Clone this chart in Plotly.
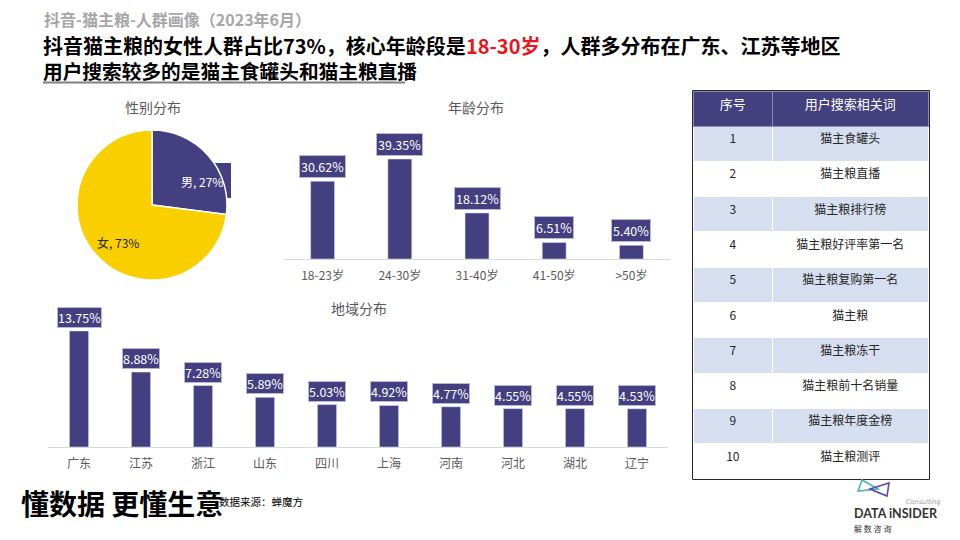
import plotly.graph_objects as go

# ---------------- data ----------------
gender_labels = ["男", "女"]
gender_values = [27, 73]

age_labels = ["18-23岁", "24-30岁", "31-40岁", "41-50岁", ">50岁"]
age_values = [30.62, 39.35, 18.12, 6.51, 5.40]

region_labels = ["广东", "江苏", "浙江", "山东", "四川", "上海", "河南", "河北", "湖北", "辽宁"]
region_values = [13.75, 8.88, 7.28, 5.89, 5.03, 4.92, 4.77, 4.55, 4.55, 4.53]

rank_no = ["1", "2", "3", "4", "5", "6", "7", "8", "9", "10"]
search_terms = ["猫主食罐头", "猫主粮直播", "猫主粮排行榜", "猫主粮好评率第一名", "猫主粮复购第一名",
                "猫主粮", "猫主粮冻干", "猫主粮前十名销量", "猫主粮年度金榜", "猫主粮测评"]

# ---------------- style ----------------
W, H = 960, 540
FONT = "Noto Sans CJK SC"
PURPLE = "#433F80"
YELLOW = "#F9CF00"
GRAY_T = "#595959"


def px(x):
    return x / W


def py(y):
    return 1 - y / H


fig = go.Figure()

# Pie
fig.add_trace(go.Pie(
    labels=gender_labels, values=gender_values, sort=False, direction="clockwise",
    rotation=0, marker=dict(colors=[PURPLE, YELLOW], line=dict(color="white", width=1.5)),
    textinfo="none", hoverinfo="label+percent", showlegend=False,
    domain=dict(x=[px(152 - 75), px(152 + 75)], y=[py(205 + 75), py(205 - 75)]),
))

# Age bars
fig.add_trace(go.Bar(
    x=age_labels, y=age_values, marker=dict(color=PURPLE), width=0.31,
    xaxis="x", yaxis="y", showlegend=False, hoverinfo="x+y",
))

# Region bars
fig.add_trace(go.Bar(
    x=region_labels, y=region_values, marker=dict(color=PURPLE), width=0.31,
    xaxis="x2", yaxis="y2", showlegend=False, hoverinfo="x+y",
))

# Table
row_fill = ["#D6DFF0" if i % 2 == 0 else "#FFFFFF" for i in range(len(rank_no))]
fig.add_trace(go.Table(
    domain=dict(x=[px(693), px(929)], y=[py(480), py(91)]),
    columnwidth=[80, 156],
    header=dict(values=["序号", "用户搜索相关词"], fill_color="#43407F",
                font=dict(color="white", size=13, family=FONT), align="center",
                height=35, line=dict(color="#8E8CB5", width=1)),
    cells=dict(values=[rank_no, search_terms], fill_color=[row_fill, row_fill],
               font=dict(color="#262626", size=12, family=FONT), align="center",
               height=35.3, line=dict(color="white", width=1)),
))

axis_common = dict(showgrid=False, zeroline=False, ticks="", showline=True,
                   linecolor="#D9D9D9", linewidth=1, ticklabelstandoff=6,
                   tickfont=dict(size=12, color=GRAY_T, family=FONT), fixedrange=True)

fig.update_layout(
    width=W, height=H, margin=dict(l=0, r=0, t=0, b=0),
    paper_bgcolor="white", plot_bgcolor="rgba(0,0,0,0)",
    font=dict(family=FONT),
    xaxis=dict(domain=[px(284), px(670)], anchor="y", range=[-0.5, 4.5], **axis_common),
    yaxis=dict(domain=[py(259), py(130)], range=[0, 129 / 2.54], visible=False, fixedrange=True),
    xaxis2=dict(domain=[px(48), px(668)], anchor="y2", range=[-0.5, 9.5], **axis_common),
    yaxis2=dict(domain=[py(447), py(318)], range=[0, 129 / 8.44], visible=False, fixedrange=True),
    bargap=0.69,
)

ann = []
# Value label boxes
for lab, v in zip(age_labels, age_values):
    ann.append(dict(x=lab, y=v, xref="x", yref="y", text=f"{v:.2f}%", showarrow=False,
                    xanchor="center", yanchor="bottom", yshift=3, bgcolor=PURPLE,
                    bordercolor="#B9B7D6", borderwidth=1, borderpad=1,
                    font=dict(color="white", size=12.5, family=FONT)))
for lab, v in zip(region_labels, region_values):
    ann.append(dict(x=lab, y=v, xref="x2", yref="y2", text=f"{v:.2f}%", showarrow=False,
                    xanchor="center", yanchor="bottom", yshift=3, bgcolor=PURPLE,
                    bordercolor="#B9B7D6", borderwidth=1, borderpad=0,
                    font=dict(color="white", size=12.5, family=FONT)))


def txt(text, x, y, size, color, xanchor="center", family=FONT, height=None):
    d = dict(x=px(x), y=py(y), xref="paper", yref="paper", text=text, showarrow=False,
             xanchor=xanchor, yanchor="middle",
             font=dict(color=color, size=size, family=family))
    if height is not None:
        d["height"] = height
        d["borderpad"] = 0
    return d


# Pie labels
ann.append(txt(f"{gender_labels[0]}, {gender_values[0]}%", 202, 181, 12, "white"))
ann.append(txt(f"{gender_labels[1]}, {gender_values[1]}%", 118, 243, 12, "#262626"))

# Chart titles
for t, x, y in [("性别分布", 153, 107), ("年龄分布", 476, 107), ("地域分布", 359, 308)]:
    ann.append(txt(t, x, y, 14, GRAY_T))

# Header texts
ann.append(txt("<b>抖音-猫主粮-人群画像（2023年6月）</b>", 42, 19, 16, "#A6A6A6", "left"))
ann.append(txt("<b>抖音猫主粮的女性人群占比73%，核心年龄段是<span style='color:#E8161B'>18-30岁</span>，人群多分布在广东、江苏等地区</b>",
               42, 45, 20, "black", "left", height=23))
ann.append(txt("<b>用户搜索较多的是猫主食罐头和猫主粮直播</b>", 42, 70, 19.7, "black", "left", height=23))

# Footer
ann.append(txt("<b>懂数据 更懂生意</b>", 19, 503, 28, "black", "left"))
ann.append(txt("数据来源：蝉魔方", 217, 501, 10.5, "black", "left"))
ann.append(txt("<b>DATA iNSIDER</b>", 852, 513, 12.5, "#333333", "left", "Lato"))
ann.append(txt("<i>Consulting</i>", 943, 502, 6.5, "#999999", "right", "DejaVu Sans"))
ann.append(txt("解 数 咨 询", 852, 528, 8, "#333333", "left"))

fig.update_layout(annotations=ann)


def P(x, y):
    return f"{px(x)} {py(y)}"


shapes = [
    # header underline
    dict(type="line", xref="paper", yref="paper", x0=px(43), x1=px(405), y0=py(82.5), y1=py(82.5),
         line=dict(color="#7F7F7F", width=2)),
    # pie label box bump
    dict(type="rect", xref="paper", yref="paper", x0=px(205), x1=px(231), y0=py(198), y1=py(163),
         fillcolor=PURPLE, line=dict(width=0), layer="below"),
    # table outer border
    dict(type="rect", xref="paper", yref="paper", x0=px(692.5), x1=px(929.5), y0=py(479.5), y1=py(90.5),
         line=dict(color="#262626", width=1)),
    # logo icon
    dict(type="path", xref="paper", yref="paper",
         path=f"M {P(858, 491)} L {P(862, 480)} L {P(878, 489)} L {P(858, 491)} Z",
         line=dict(color="#4DB6AC", width=1.6)),
    dict(type="path", xref="paper", yref="paper",
         path=f"M {P(870, 489)} L {P(889, 483)} L {P(887, 496)} Z",
         line=dict(color="#5B4BB7", width=1.6)),
]
fig.update_layout(shapes=shapes)

fig.write_html("out.html", config={"displayModeBar": False},
               post_script="document.body.style.margin='0';document.body.style.padding='0';")
